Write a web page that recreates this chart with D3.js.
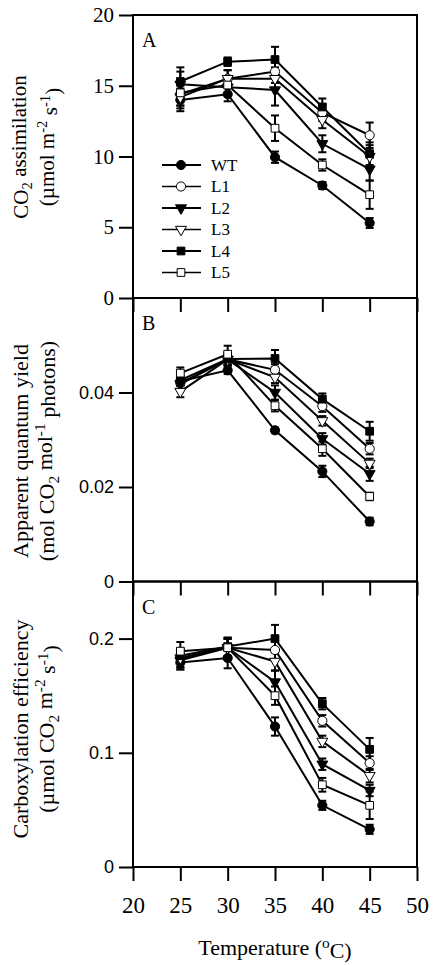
<!DOCTYPE html>
<html><head><meta charset="utf-8">
<script src="https://cdn.jsdelivr.net/npm/d3@7"></script>
<style>body{margin:0;background:#fff}svg{display:block}</style>
</head><body>
<svg id="c" width="433" height="965"></svg>
<script>
// ---- data ----
const temps = [25, 30, 35, 40, 45];
const series = ["WT", "L1", "L2", "L3", "L4", "L5"];
const xTicks = [20, 25, 30, 35, 40, 45, 50];

const aMean = {
  WT: [14.0, 14.4, 9.95, 7.95, 5.3],
  L1: [14.4, 15.5, 16.0, 13.1, 11.5],
  L2: [15.1, 14.9, 14.7, 10.9, 9.1],
  L3: [14.2, 15.5, 15.5, 12.6, 10.0],
  L4: [15.3, 16.7, 16.85, 13.5, 10.2],
  L5: [14.5, 15.05, 12.0, 9.4, 7.3]
};
const aErr = {
  WT: [0.8, 0.5, 0.4, 0.25, 0.35],
  L1: [0.8, 0.6, 0.8, 0.6, 0.9],
  L2: [0.9, 0.5, 1.1, 0.6, 0.8],
  L3: [0.8, 0.6, 0.8, 0.6, 0.8],
  L4: [1.0, 0.3, 0.9, 0.6, 0.8],
  L5: [0.9, 0.6, 0.9, 0.4, 1.0]
};
const bMean = {
  WT: [0.0424, 0.0447, 0.0320, 0.0233, 0.0127],
  L1: [0.0420, 0.0470, 0.0448, 0.0371, 0.0281],
  L2: [0.0418, 0.0470, 0.0400, 0.0302, 0.0228],
  L3: [0.0402, 0.0470, 0.0432, 0.0340, 0.0250],
  L4: [0.0426, 0.0471, 0.0472, 0.0386, 0.0318],
  L5: [0.0441, 0.0481, 0.0372, 0.0281, 0.0180]
};
const bErr = {
  WT: [0.0010, 0.0008, 0.0006, 0.0012, 0.0008],
  L1: [0.0012, 0.0012, 0.0012, 0.0012, 0.0012],
  L2: [0.0012, 0.0012, 0.0015, 0.0012, 0.0015],
  L3: [0.0012, 0.0012, 0.0012, 0.0010, 0.0010],
  L4: [0.0010, 0.0012, 0.0018, 0.0012, 0.0020],
  L5: [0.0012, 0.0018, 0.0012, 0.0015, 0.0008]
};
const cMean = {
  WT: [0.179, 0.183, 0.123, 0.054, 0.033],
  L1: [0.183, 0.192, 0.190, 0.128, 0.091],
  L2: [0.181, 0.192, 0.162, 0.090, 0.067],
  L3: [0.183, 0.192, 0.180, 0.110, 0.080],
  L4: [0.185, 0.193, 0.200, 0.143, 0.103],
  L5: [0.189, 0.192, 0.150, 0.072, 0.054]
};
const cErr = {
  WT: [0.006, 0.009, 0.008, 0.004, 0.004],
  L1: [0.008, 0.008, 0.008, 0.005, 0.006],
  L2: [0.008, 0.008, 0.010, 0.005, 0.005],
  L3: [0.008, 0.008, 0.008, 0.005, 0.006],
  L4: [0.006, 0.008, 0.012, 0.005, 0.010],
  L5: [0.008, 0.008, 0.008, 0.006, 0.012]
};
const aTicks = [0, 5, 10, 15, 20];
const bTicks = [0, 0.02, 0.04];
const cTicks = [0, 0.1, 0.2];

// ---- layout ----
const serif = "'Liberation Serif','Times New Roman',serif";
const sans = "'Liberation Sans',Arial,sans-serif";
const svg = d3.select("#c");
const x = d3.scaleLinear().domain([20, 50]).range([133, 417]);

const style = {
  WT: {sym: d3.symbolCircle, fill: "#000", rot: 0},
  L1: {sym: d3.symbolCircle, fill: "#fff", rot: 0},
  L2: {sym: d3.symbolTriangle, fill: "#000", rot: 180},
  L3: {sym: d3.symbolTriangle, fill: "#fff", rot: 180},
  L4: {sym: d3.symbolSquare, fill: "#000", rot: 0},
  L5: {sym: d3.symbolSquare, fill: "#fff", rot: 0}
};
const symSize = {circle: 66, tri: 52, sq: 60};
function symPath(s) {
  const sz = s.sym === d3.symbolCircle ? symSize.circle : s.sym === d3.symbolTriangle ? symSize.tri : symSize.sq;
  return d3.symbol().type(s.sym).size(sz)();
}

const panels = [
  {letter: "A", mean: aMean, err: aErr, dom: [0, 20], r: [298, 15], ticks: aTicks, fmt: d => String(d), font: serif, fs: 21,
   title: [["CO", ["2", "sub"], " assimilation"], ["(µmol m", ["-2", "sup"], " s", ["-1", "sup"], ")"]], cy: 147, tfs: 21},
  {letter: "B", mean: bMean, err: bErr, dom: [0, 0.06], r: [581.5, 298], ticks: bTicks, fmt: d => d === 0 ? "0" : d3.format(".2f")(d), font: sans, fs: 18,
   title: [["Apparent quantum yield"], ["(mol CO", ["2", "sub"], " mol", ["-1", "sup"], " photons)"]], cy: 451, tfs: 22},
  {letter: "C", mean: cMean, err: cErr, dom: [0, 0.25], r: [867, 581.5], ticks: cTicks, fmt: d => d === 0 ? "0" : d3.format(".1f")(d), font: sans, fs: 18,
   title: [["Carboxylation efficiency"], ["(µmol CO", ["2", "sub"], " m", ["-2", "sup"], " s", ["-1", "sup"], ")"]], cy: 729, tfs: 22}
];

function addRich(textSel, parts) {
  let pending = null;
  parts.forEach(p => {
    if (typeof p === "string") {
      const ts = textSel.append("tspan").text(p);
      if (pending) ts.attr("dy", pending);
      pending = null;
    } else {
      let dy = p[1] === "sup" ? -0.45 : 0.3;
      const ts = textSel.append("tspan").attr("font-size", "70%").text(p[0]);
      // dy in parent em units
      ts.attr("dy", (dy + (pending ? parseFloat(pending) : 0)) + "em");
      pending = (-dy) + "em";
    }
  });
}

panels.forEach((p, pi) => {
  const y = d3.scaleLinear().domain(p.dom).range(p.r);
  const g = svg.append("g");
  const last = pi === panels.length - 1;

  const line = d3.line().x((d, i) => x(temps[i])).y(d => y(d));
  series.forEach(s => {
    g.append("path").attr("d", line(p.mean[s])).attr("fill", "none")
      .attr("stroke", "#000").attr("stroke-width", 2);
  });
  series.forEach(s => {
    p.mean[s].forEach((m, i) => {
      const e = p.err[s][i], cx = x(temps[i]);
      g.append("line").attr("x1", cx).attr("x2", cx).attr("y1", y(m - e)).attr("y2", y(m + e))
        .attr("stroke", "#000").attr("stroke-width", 2);
      [m - e, m + e].forEach(v => g.append("line").attr("x1", cx - 4).attr("x2", cx + 4)
        .attr("y1", y(v)).attr("y2", y(v)).attr("stroke", "#000").attr("stroke-width", 2));
    });
  });
  series.forEach(s => {
    const st = style[s];
    p.mean[s].forEach((m, i) => {
      g.append("path").attr("d", symPath(st))
        .attr("transform", `translate(${x(temps[i])},${y(m)}) rotate(${st.rot})`)
        .attr("fill", st.fill).attr("stroke", "#000").attr("stroke-width", 1);
    });
  });

  g.append("rect").attr("x", x(20)).attr("y", p.r[1]).attr("width", x(50) - x(20)).attr("height", p.r[0] - p.r[1])
    .attr("fill", "none").attr("stroke", "#000").attr("stroke-width", 2);

  const yAxis = d3.axisLeft(y).tickValues(p.ticks).tickSize(14).tickPadding(5).tickFormat(p.fmt);
  const ya = g.append("g").attr("transform", `translate(${x(20)},0)`).call(yAxis);
  ya.select(".domain").remove();
  ya.selectAll(".tick line").attr("stroke", "#000").attr("stroke-width", 2);
  ya.selectAll(".tick text").attr("font-family", p.font).attr("font-size", p.fs).attr("fill", "#000");

  const xAxis = d3.axisBottom(x).tickValues(xTicks).tickSize(14).tickPadding(16).tickFormat(d3.format("d"));
  const xa = g.append("g").attr("transform", `translate(0,${p.r[0]})`).call(xAxis);
  xa.select(".domain").remove();
  xa.selectAll(".tick line").attr("stroke", "#000").attr("stroke-width", 2);
  if (last) {
    xa.selectAll(".tick text").attr("font-family", serif).attr("font-size", 23).attr("fill", "#000");
  } else {
    xa.selectAll(".tick text").remove();
  }

  g.append("text").attr("x", 142).attr("y", p.r[1] + 32).attr("font-family", serif).attr("font-size", 20)
    .attr("fill", "#000").text(p.letter);

  [28, 54].forEach((bx, li) => {
    const t = g.append("text").attr("transform", `translate(${bx},${p.cy}) rotate(-90)`)
      .attr("text-anchor", "middle").attr("font-family", serif).attr("font-size", p.tfs).attr("fill", "#000");
    addRich(t, p.title[li]);
  });
});

// legend
const leg = svg.append("g");
series.forEach((s, i) => {
  const ly = 165 + i * 21.5, st = style[s];
  leg.append("line").attr("x1", 162).attr("x2", 201).attr("y1", ly).attr("y2", ly)
    .attr("stroke", "#000").attr("stroke-width", st.fill === "#fff" ? 1.5 : 2);
  leg.append("path").attr("d", symPath(st)).attr("transform", `translate(181,${ly}) rotate(${st.rot})`)
    .attr("fill", st.fill).attr("stroke", "#000").attr("stroke-width", 1);
  leg.append("text").attr("x", 211).attr("y", ly + 5.5).attr("font-family", serif).attr("font-size", 17)
    .attr("fill", "#000").text(s);
});

// x title
const xt = svg.append("text").attr("x", x(35)).attr("y", 955).attr("text-anchor", "middle")
  .attr("font-family", serif).attr("font-size", 22).attr("fill", "#000");
addRich(xt, ["Temperature (", ["o", "sup"], "C)"]);
</script>
</body></html>
